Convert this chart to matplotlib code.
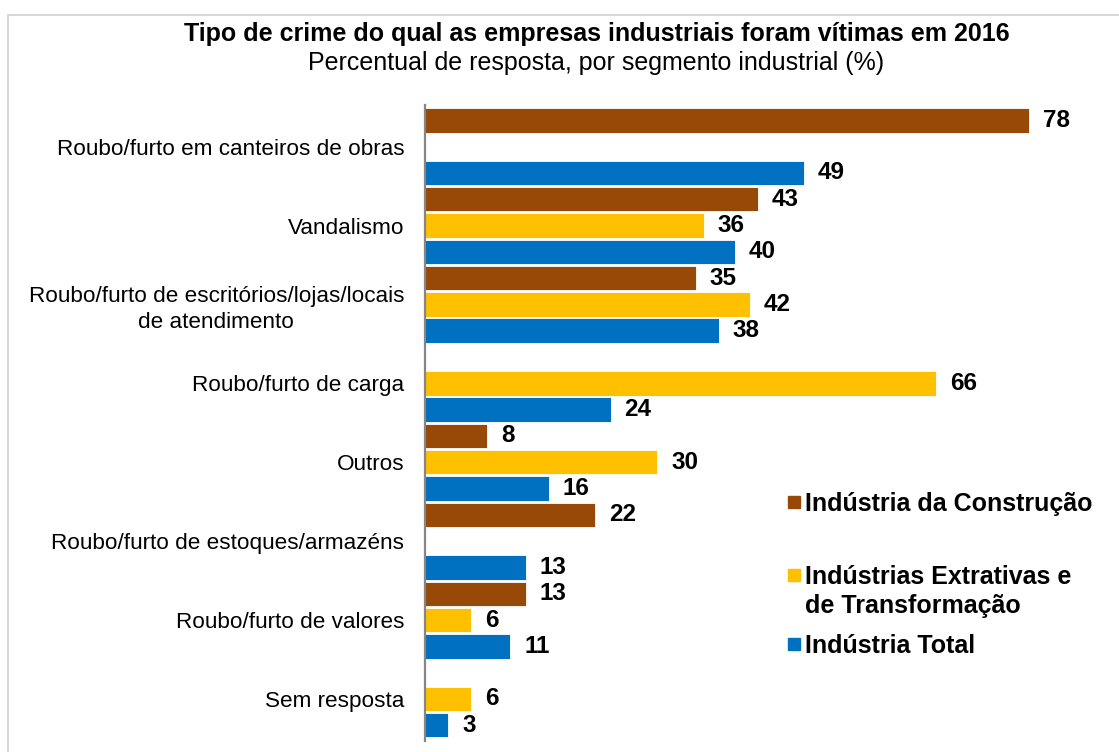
import numpy as np
import matplotlib
matplotlib.use("Agg")
import matplotlib.pyplot as plt
from matplotlib.patches import Rectangle

plt.rcParams['font.family'] = ['Liberation Sans', 'DejaVu Sans']

categorias = ["Roubo/furto em canteiros de obras",
              "Vandalismo",
              "Roubo/furto de escritórios/lojas/locais\nde atendimento",
              "Roubo/furto de carga",
              "Outros",
              "Roubo/furto de estoques/armazéns",
              "Roubo/furto de valores",
              "Sem resposta"]

series = ["Indústria da Construção",
          "Indústrias Extrativas e\nde Transformação",
          "Indústria Total"]

construcao = [78, 43, 35, np.nan, 8, 22, 13, np.nan]
extrativas = [np.nan, 36, 42, 66, 30, np.nan, 6, 6]
total = [49, 40, 38, 24, 16, 13, 11, 3]

cores = ["#984807", "#FFC000", "#0070C0"]

fig = plt.figure(figsize=(11.19, 7.52), dpi=100)
ax = fig.add_axes([0.3798, 0.0146, 0.6086, 0.8464])

valores = [construcao, extrativas, total]
n = len(categorias)
for j, vals in enumerate(valores):
    for i in range(n):
        v = vals[i]
        if np.isnan(v):
            continue
        y = 3 * i + j
        ax.barh(y, v, height=0.93, color=cores[j], edgecolor="white", linewidth=0.6)
        ax.annotate(f"{v:.0f}", (v, y), xytext=(10, 0), textcoords="offset points",
                    ha="left", va="center", fontsize=17.5, fontweight="bold")

ax.set_xlim(0, 88)
ax.set_ylim(23.6, -0.6)
ax.set_yticks([3 * i + 1 for i in range(n)])
ax.set_yticklabels(categorias, fontsize=16.2, multialignment="center", linespacing=1.3)
ax.tick_params(axis="y", length=0, pad=15)
ax.set_xticks([])
for s in ["top", "right", "bottom"]:
    ax.spines[s].set_visible(False)
ax.spines["left"].set_color("#868686")
ax.spines["left"].set_linewidth(1.6)

fig.text(0.5335, 1 - 34 / 752, "Tipo de crime do qual as empresas industriais foram vítimas em 2016",
         ha="center", va="center", fontsize=18, fontweight="bold")
fig.text(0.533, 1 - 63 / 752, "Percentual de resposta, por segmento industrial (%)",
         ha="center", va="center", fontsize=18)

# legenda
leg_y = [502, 575, 644]
for j, nome in enumerate(series):
    yy = 1 - leg_y[j] / 752
    fig.patches.append(Rectangle((788 / 1119, yy - 6 / 752), 12 / 1119, 12 / 752,
                                 transform=fig.transFigure, color=cores[j]))
    fig.text(805 / 1119, yy + 10 / 752, nome, ha="left", va="top", fontsize=18,
             fontweight="bold", linespacing=1.25)

# moldura
fig.patches.append(Rectangle((8 / 1119, -0.1), 1.2, 1.1 - 15 / 752, transform=fig.transFigure,
                             fill=False, edgecolor="#d0d0d0", linewidth=1.2))

fig.savefig("out.png", dpi=100)
